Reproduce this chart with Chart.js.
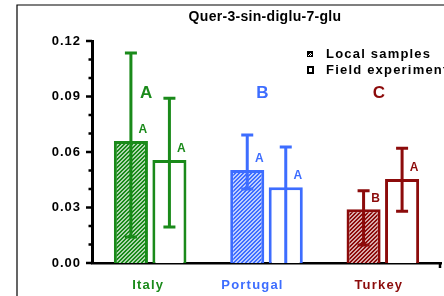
<!DOCTYPE html>
<html>
<head>
<meta charset="utf-8">
<script src="https://cdn.jsdelivr.net/npm/chart.js@4/dist/chart.umd.min.js"></script>
<style>
  html, body { margin: 0; padding: 0; background: #fff; overflow: hidden; }
  canvas { display: block; }
</style>
</head>
<body>
<canvas id="chart" width="444" height="296"></canvas>
<script>
const title = 'Quer-3-sin-diglu-7-glu';
const categories = ['Italy', 'Portugal', 'Turkey'];
const seriesNames = ['Local samples', 'Field experiments'];

const localMean = [0.066, 0.0503, 0.029];
const localLow  = [0.014, 0.040, 0.0097];
const localHigh = [0.1135, 0.0692, 0.039];

const fieldMean = [0.0557, 0.041, 0.0454];
const fieldLow  = [0.0195, 0, 0.028];
const fieldHigh = [0.089, 0.0627, 0.062];

const groupLetters = ['A', 'B', 'C'];
const localLetters = ['A', 'A', 'B'];
const fieldLetters = ['A', 'A', 'A'];

const yTicks = [0, 0.03, 0.06, 0.09, 0.12];

const colors = ['#1a8a1a', '#3d6dff', '#8c0b0b'];
const FONT = '"Liberation Sans", Arial, sans-serif';

function hatch(color) {
  const c = document.createElement('canvas');
  c.width = 4; c.height = 4;
  const g = c.getContext('2d');
  g.fillStyle = '#fff';
  g.fillRect(0, 0, 4, 4);
  g.globalAlpha = 0.35;
  g.fillStyle = color;
  g.fillRect(0, 0, 4, 4);
  g.globalAlpha = 1;
  for (let i = 0; i < 4; i++) {
    g.fillRect(i, 3 - i, 1, 1);
    g.fillRect(i, (4 - i) % 4, 1, 1);
  }
  return g.createPattern(c, 'repeat');
}
const patterns = colors.map(hatch);

const errors = [[localLow, localHigh], [fieldLow, fieldHigh]];
const smallLetters = [localLetters, fieldLetters];
const labelShift = [-2, -14, -4];

const decor = {
  id: 'decor',
  beforeDraw(chart) {
    chart.ctx.letterSpacing = '1px';
  },
  afterDatasetsDraw(chart) {
    const ctx = chart.ctx;
    const x = chart.scales.x, y = chart.scales.y;
    ctx.save();
    ctx.lineCap = 'butt';
    [0, 1].forEach(d => {
      const meta = chart.getDatasetMeta(d);
      meta.data.forEach((el, i) => {
        const [lo, hi] = errors[d];
        const yl = y.getPixelForValue(lo[i]);
        const yh = y.getPixelForValue(hi[i]);
        ctx.strokeStyle = colors[i];
        ctx.lineWidth = 3;
        ctx.beginPath();
        ctx.moveTo(el.x, yl); ctx.lineTo(el.x, yh);
        ctx.moveTo(el.x - 6, yh); ctx.lineTo(el.x + 6, yh);
        if (lo[i] > 0) { ctx.moveTo(el.x - 6, yl); ctx.lineTo(el.x + 6, yl); }
        ctx.stroke();
        ctx.fillStyle = colors[i];
        ctx.font = 'bold 12px ' + FONT;
        ctx.textAlign = 'center';
        ctx.textBaseline = 'middle';
        ctx.letterSpacing = '0px';
        ctx.fillText(smallLetters[d][i], el.x + 12, el.y - 11);
      });
    });
    // group letters
    ctx.font = 'bold 17px ' + FONT;
    categories.forEach((c, i) => {
      ctx.fillStyle = colors[i];
      ctx.fillText(groupLetters[i], x.getPixelForValue(i) - 4, y.getPixelForValue(0.0915));
    });
    ctx.restore();
  },
  afterDraw(chart) {
    const ctx = chart.ctx;
    const x = chart.scales.x, y = chart.scales.y;
    const area = chart.chartArea;
    ctx.save();
    // outer frame
    ctx.strokeStyle = '#000';
    ctx.lineWidth = 1.2;
    ctx.beginPath();
    ctx.moveTo(17, 300); ctx.lineTo(17, 5); ctx.lineTo(450, 5);
    ctx.stroke();
    // y ticks, major and minor
    ctx.lineWidth = 2.5;
    ctx.beginPath();
    for (let k = 0; k <= 12; k++) {
      const py = y.getPixelForValue(k / 100);
      const len = k % 3 === 0 ? 6 : 3.5;
      ctx.moveTo(area.left - len, py); ctx.lineTo(area.left, py);
    }
    // right end tick on x axis
    ctx.moveTo(area.right - 1, area.bottom); ctx.lineTo(area.right - 1, area.bottom + 5);
    ctx.stroke();
    // category labels
    ctx.font = 'bold 13px ' + FONT;
    ctx.letterSpacing = '1.2px';
    ctx.textAlign = 'center';
    ctx.textBaseline = 'middle';
    categories.forEach((c, i) => {
      ctx.fillStyle = colors[i];
      ctx.fillText(c, x.getPixelForValue(i) + labelShift[i], 285);
    });
    // title
    ctx.fillStyle = '#000';
    ctx.font = 'bold 14px ' + FONT;
    ctx.letterSpacing = '0.3px';
    ctx.fillText(title, 265, 17);
    // legend
    ctx.font = 'bold 13px ' + FONT;
    ctx.letterSpacing = '1.2px';
    ctx.textAlign = 'left';
    ctx.fillText(seriesNames[0], 326, 54);
    ctx.fillText(seriesNames[1], 326, 70);
    ctx.fillStyle = '#000';
    ctx.fillRect(307, 51, 6, 6);
    ctx.fillStyle = '#fff';
    ctx.fillRect(308, 55, 1, 1); ctx.fillRect(309, 54, 1, 1); ctx.fillRect(310, 53, 1, 1);
    ctx.fillRect(310, 55, 1, 1); ctx.fillRect(311, 54, 1, 1);
    ctx.strokeStyle = '#000';
    ctx.lineWidth = 2;
    ctx.strokeRect(308, 67, 5, 6);
    // y axis title with superscript
    ctx.translate(33, 152);
    ctx.rotate(-Math.PI / 2);
    ctx.letterSpacing = '0.6px';
    const p1 = 'Fraction ( mg mg ', sup = '-1', p2 = '  total phenolics )';
    ctx.font = 'bold 13px ' + FONT;
    const w1 = ctx.measureText(p1).width, w3 = ctx.measureText(p2).width;
    ctx.font = 'bold 9px ' + FONT;
    const w2 = ctx.measureText(sup).width;
    let sx = -(w1 + w2 + w3) / 2;
    ctx.textBaseline = 'middle';
    ctx.font = 'bold 13px ' + FONT;
    ctx.fillText(p1, sx, 0);
    ctx.font = 'bold 9px ' + FONT;
    ctx.fillText(sup, sx + w1, -5);
    ctx.font = 'bold 13px ' + FONT;
    ctx.fillText(p2, sx + w1 + w2, 0);
    ctx.restore();
  }
};

new Chart(document.getElementById('chart'), {
  type: 'bar',
  data: {
    labels: categories,
    datasets: [
      {
        label: seriesNames[0],
        data: localMean,
        backgroundColor: patterns,
        borderColor: colors,
        borderWidth: 3
      },
      {
        label: seriesNames[1],
        data: fieldMean,
        backgroundColor: '#fff',
        borderColor: colors,
        borderWidth: 3
      }
    ]
  },
  options: {
    responsive: false,
    animation: false,
    categoryPercentage: 0.662,
    barPercentage: 0.885,
    layout: { padding: { top: 41, right: 3, left: 0, bottom: 0 } },
    plugins: { legend: { display: false }, tooltip: { enabled: false }, title: { display: false } },
    scales: {
      x: {
        grid: { display: false, drawTicks: false },
        border: { display: true, width: 2.5, color: '#000' },
        ticks: { display: false },
        afterFit: s => { s.height = 33; }
      },
      y: {
        min: 0,
        max: 0.12,
        afterBuildTicks: s => { s.ticks = yTicks.map(v => ({ value: v })); },
        grid: { display: false, drawTicks: false },
        border: { display: true, width: 3, color: '#000' },
        ticks: {
          padding: 11,
          color: '#000',
          font: { family: FONT, weight: 'bold', size: 13 },
          callback: v => v.toFixed(2)
        },
        afterFit: s => { s.width = 92; }
      }
    }
  },
  plugins: [decor]
});
</script>
</body>
</html>
